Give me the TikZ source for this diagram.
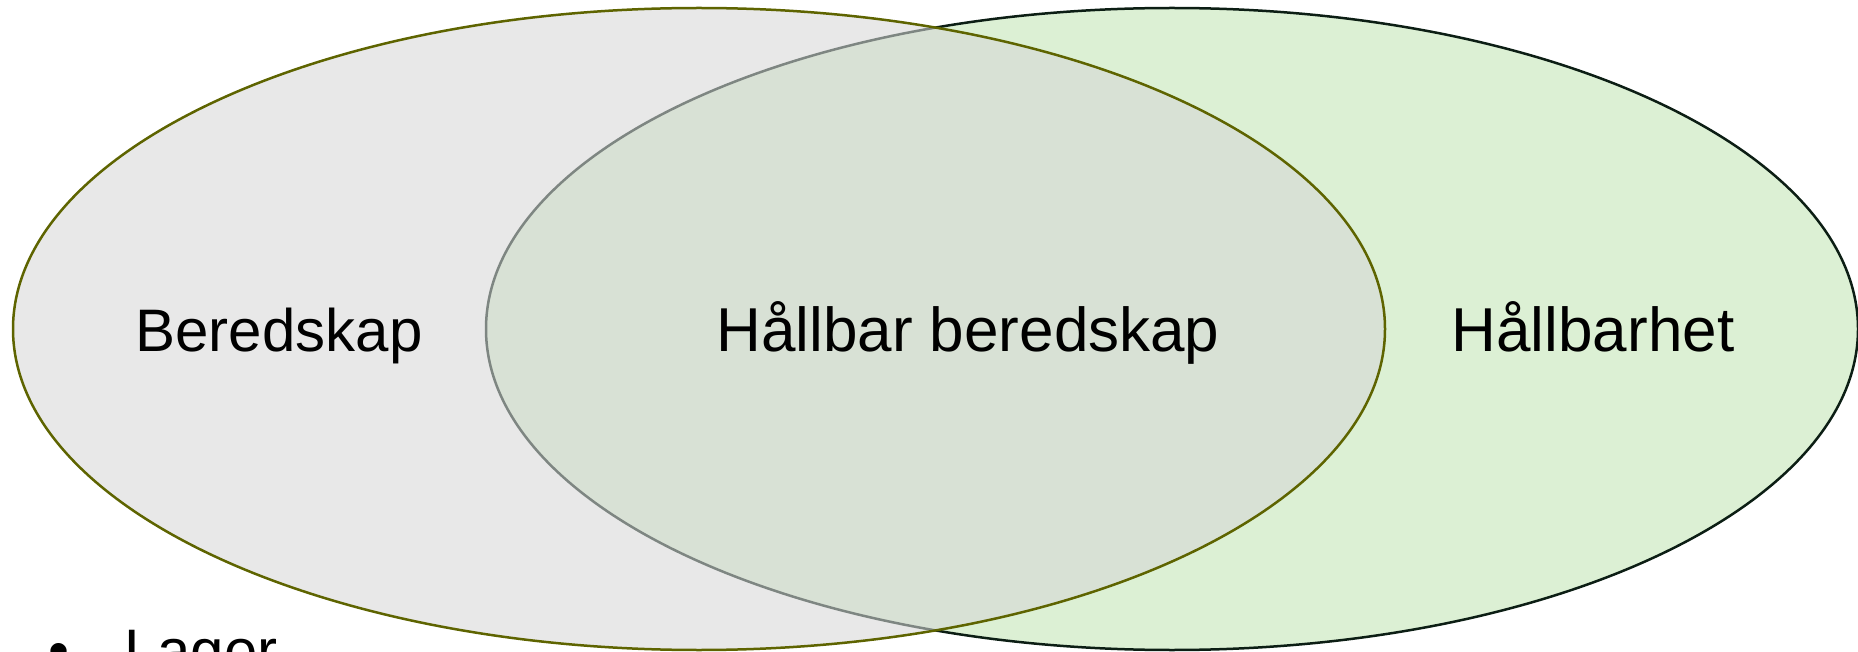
\documentclass[tikz,border=0pt]{standalone}
\usepackage{fontspec}
\setmainfont{Liberation Sans}
\usetikzlibrary{shapes.geometric}
\definecolor{oliveline}{RGB}{94,100,0}
\definecolor{darkline}{RGB}{12,30,20}
\definecolor{greenfill}{RGB}{220,240,212}
\definecolor{grayfill}{RGB}{214,214,214}
\tikzset{
  venn/.style={ellipse, line width=2.5pt, minimum width=1372pt, minimum height=642pt, inner sep=0pt},
  lbl/.style={anchor=base, inner sep=0pt, font=\fontsize{60pt}{72pt}\selectfont, text=black}
}
\begin{document}
\begin{tikzpicture}[x=1pt,y=-1pt]
\useasboundingbox (0,0) rectangle (1858,652);
\clip (0,0) rectangle (1858,652);
\node[venn, draw=darkline, fill=greenfill] (hallbarhet) at (1172,329) {};
\node[venn, draw=oliveline, fill=grayfill, fill opacity=0.57] (beredskap) at (699,329) {};
\node[lbl] (t1) at (279,351) {Beredskap};
\node[lbl, font=\fontsize{62pt}{74pt}\selectfont] (t2) at (968,351) {Hållbar beredskap};
\node[lbl, font=\fontsize{62pt}{74pt}\selectfont] (t3) at (1593,351) {Hållbarhet};
\node[lbl, anchor=base west] (bul) at (48,671) {•};
\node[lbl, anchor=base west] (lager) at (124,671) {Lager};
\end{tikzpicture}
\end{document}
